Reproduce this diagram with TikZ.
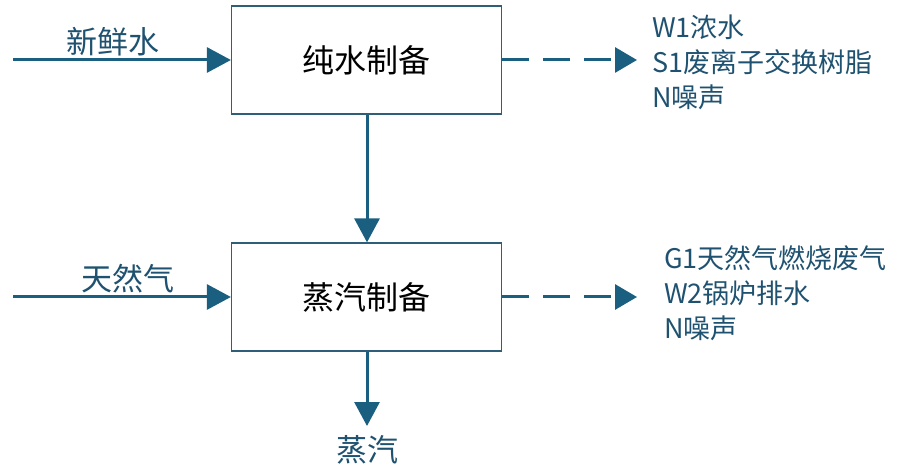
\documentclass[tikz,border=0pt]{standalone}
\usepackage{fontspec}
\newfontfamily\cjk{Noto Sans CJK SC}
\usetikzlibrary{arrows.meta}
\definecolor{arr}{HTML}{1A5F80}
\definecolor{boxc}{HTML}{2F5F78}
\definecolor{lab}{HTML}{1F5270}
\begin{document}
\begin{tikzpicture}[x=1pt,y=-1pt,
  procbox/.style={draw=boxc,line width=1.2pt,minimum width=270pt,minimum height=108pt,inner sep=0pt,font=\cjk\fontsize{32}{38}\selectfont,text=black},
  flow/.style={draw=arr,line width=3pt,-{Triangle[length=24pt,width=25pt]}},
  dflow/.style={draw=arr,line width=3pt,dash pattern=on 27pt off 14pt,-{Triangle[length=22pt,width=25pt]}},
  inlab/.style={font=\cjk\fontsize{31}{34}\selectfont,text=lab,inner sep=0pt},
  outlab/.style={font=\cjk\fontsize{27}{35}\selectfont,text=lab,align=left,anchor=west,inner sep=0pt}]
\useasboundingbox (0,0) rectangle (897,470);
\node[procbox] (b1) at (366.5,60) {纯水制备};
\node[procbox] (b2) at (366.5,297) {蒸汽制备};
\coordinate (s1) at (13,60);
\coordinate (s2) at (13,297);
\coordinate (e3) at (367,426);
\coordinate (o1) at (637,60);
\coordinate (o2) at (637,297);
\draw[flow] (s1) -- (b1.west);
\draw[flow] (s2) -- (b2.west);
\draw[flow] (b1.south -| 367,0) -- (b2.north -| 367,0);
\draw[flow] (b2.south -| 367,0) -- (e3);
\draw[dflow] (b1.east) -- (o1);
\draw[dflow] (b2.east) -- (o2);
\node[inlab] (l1) at (113,42) {新鲜水};
\node[inlab] (l2) at (128,279) {天然气};
\node[inlab] (l3) at (367,450) {蒸汽};
\node[outlab] (r1) at (652,62) {W1浓水\\S1废离子交换树脂\\N噪声};
\node[outlab] (r2) at (664,293) {G1天然气燃烧废气\\W2锅炉排水\\N噪声};
\end{tikzpicture}
\end{document}
